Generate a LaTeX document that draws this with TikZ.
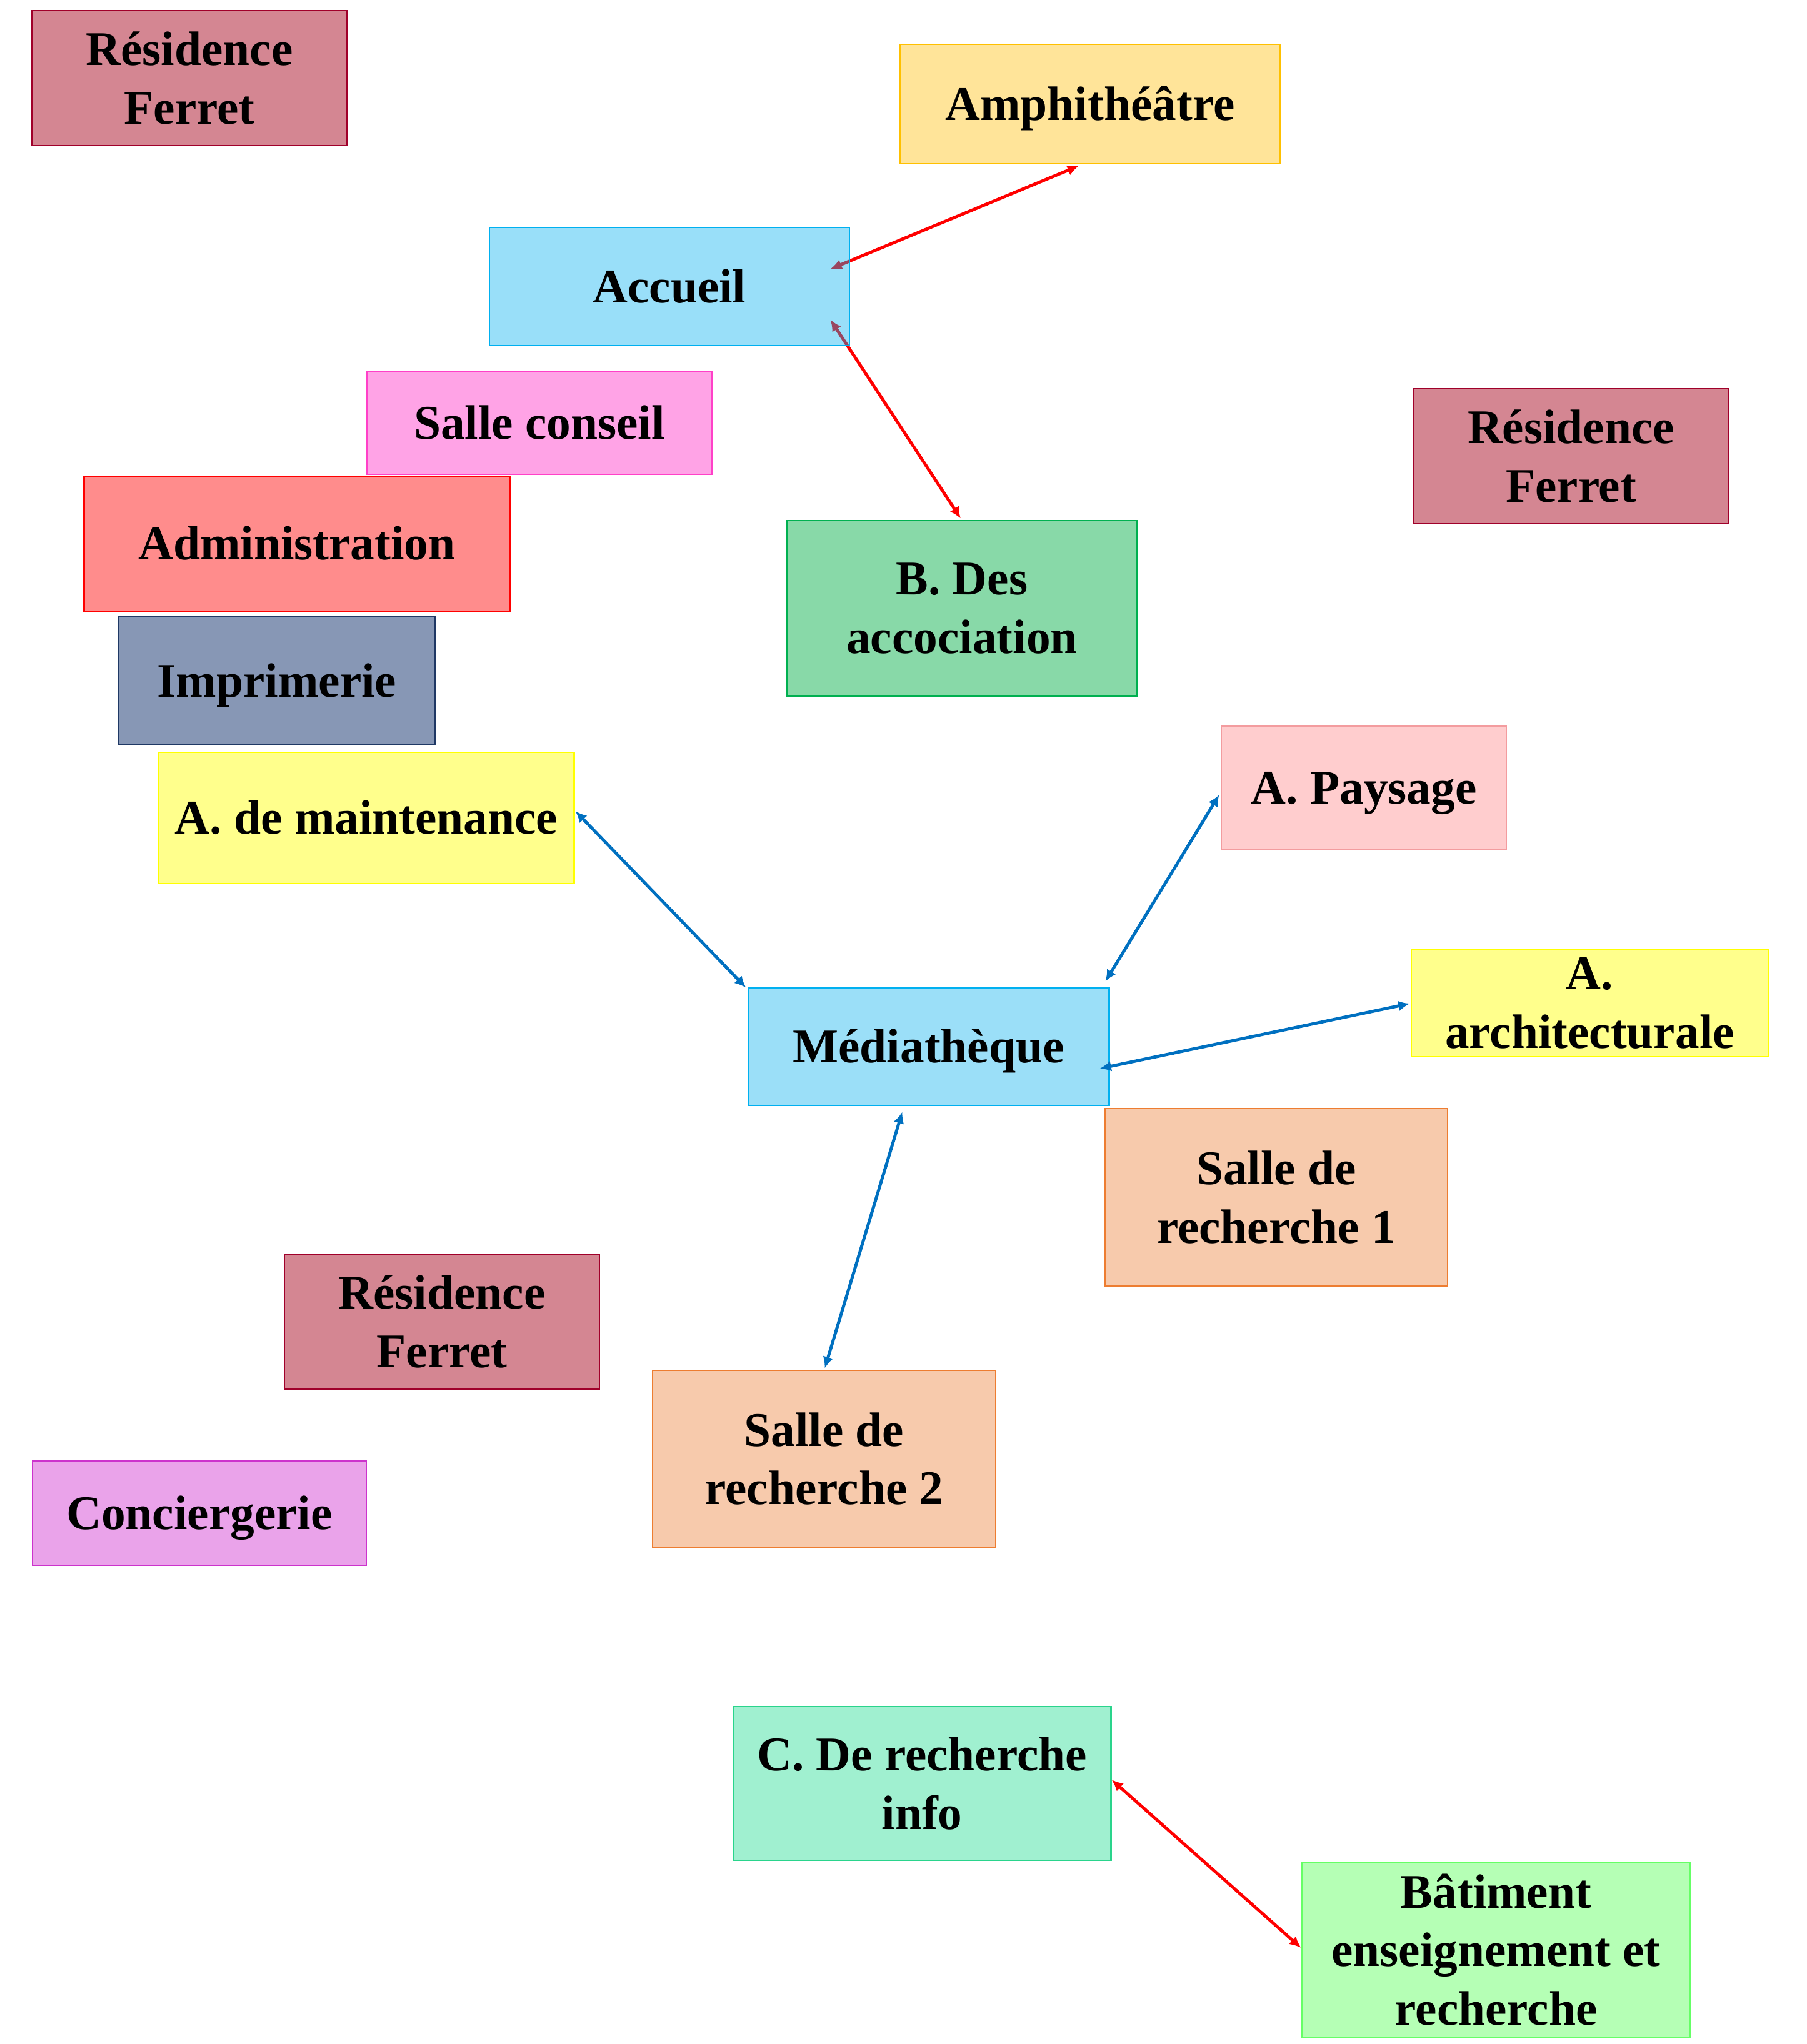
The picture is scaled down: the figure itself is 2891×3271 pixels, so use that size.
\documentclass[tikz,border=0pt]{standalone}
\usepackage{fontspec}
\setmainfont{Liberation Serif}
\usetikzlibrary{arrows.meta,calc}
\definecolor{resF}{HTML}{D48692}\definecolor{resD}{HTML}{A0002A}
\definecolor{ampF}{HTML}{FFE499}\definecolor{ampD}{HTML}{FFC000}
\definecolor{accD}{HTML}{00B0F0}\definecolor{accF}{HTML}{9BDFF8}
\definecolor{conF}{HTML}{FFA3E6}\definecolor{conD}{HTML}{FF40C8}
\definecolor{admF}{HTML}{FF8C8C}\definecolor{admD}{HTML}{FF0000}
\definecolor{impF}{HTML}{8797B5}\definecolor{impD}{HTML}{1F3864}
\definecolor{yelF}{HTML}{FFFF8C}\definecolor{yelD}{HTML}{FFFF00}
\definecolor{bdeF}{HTML}{88D9A8}\definecolor{bdeD}{HTML}{00B050}
\definecolor{payF}{HTML}{FFCDCE}\definecolor{payD}{HTML}{F39C9F}
\definecolor{salF}{HTML}{F7CAAC}\definecolor{salD}{HTML}{ED7D31}
\definecolor{ccgF}{HTML}{EAA3EA}\definecolor{ccgD}{HTML}{CC33CC}
\definecolor{cinF}{HTML}{A0F0D0}\definecolor{cinD}{HTML}{2AD48C}
\definecolor{batF}{HTML}{B5FFB5}\definecolor{batD}{HTML}{66FF66}
\definecolor{arrR}{HTML}{FF0000}\definecolor{arrB}{HTML}{0070C0}
\pgfdeclarelayer{bg}\pgfsetlayers{bg,main}
\tikzset{
  box/.style 2 args={draw=#2, fill=#1, line width=0.75pt, inner sep=0pt, align=center,
    font=\fontsize{22pt}{26.7pt}\selectfont\bfseries},
  oneline/.style={text height=15pt, text depth=0.5pt},
  arr/.style={line width=1.4pt, draw=#1,
    {Latex[length=5.2pt,width=4.8pt]}-{Latex[length=5.2pt,width=4.8pt]}}
}
\begin{document}
\begin{tikzpicture}[x=0.01cm,y=-0.01cm]
\useasboundingbox (0,0) rectangle (2891,3271);
\node[box={resF}{resD}, minimum width=5.04cm, minimum height=2.16cm] (res1) at (303,125) {Résidence\\Ferret};
\node[box={ampF}{ampD}, oneline, minimum width=6.08cm, minimum height=1.91cm] (amph) at (1744,166.5) {Amphithéâtre};
\node[box={accD}{accD}, oneline, fill opacity=0.4, text opacity=1, draw opacity=1, minimum width=5.76cm, minimum height=1.89cm] (accueil) at (1071,458.5) {Accueil};
\node[box={conF}{conD}, oneline, minimum width=5.52cm, minimum height=1.65cm] (conseil) at (863,676.5) {Salle conseil};
\node[box={admF}{admD}, oneline, minimum width=6.80cm, minimum height=2.16cm] (admin) at (475,870) {Administration};
\node[box={impF}{impD}, oneline, minimum width=5.06cm, minimum height=2.05cm] (imprim) at (443,1089.5) {Imprimerie};
\node[box={yelF}{yelD}, oneline, minimum width=6.64cm, minimum height=2.10cm] (maint) at (586,1309) {A. de maintenance};
\node[box={bdeF}{bdeD}, minimum width=5.60cm, minimum height=2.81cm] (bdes) at (1539,973.5) {B. Des\\accociation};
\node[box={resF}{resD}, minimum width=5.05cm, minimum height=2.16cm] (res2) at (2513.5,730) {Résidence\\Ferret};
\node[box={payF}{payD}, oneline, minimum width=4.56cm, minimum height=1.98cm] (paysage) at (2182,1261) {A. Paysage};
\node[box={yelF}{yelD}, minimum width=5.71cm, minimum height=1.72cm] (archi) at (2543.5,1605) {A.\\architecturale};
\node[box={accF}{accD}, oneline, minimum width=5.77cm, minimum height=1.88cm] (media) at (1485.5,1675) {Médiathèque};
\node[box={salF}{salD}, minimum width=5.48cm, minimum height=2.84cm] (salle1) at (2042,1916) {Salle de\\recherche 1};
\node[box={resF}{resD}, minimum width=5.04cm, minimum height=2.16cm] (res3) at (707,2115) {Résidence\\Ferret};
\node[box={salF}{salD}, minimum width=5.49cm, minimum height=2.83cm] (salle2) at (1318.5,2334.5) {Salle de\\recherche 2};
\node[box={ccgF}{ccgD}, oneline, minimum width=5.34cm, minimum height=1.67cm] (concierge) at (319,2421.5) {Conciergerie};
\node[box={cinF}{cinD}, minimum width=6.04cm, minimum height=2.46cm] (cinfo) at (1475,2854) {C. De recherche\\info};
\node[box={batF}{batD}, minimum width=6.21cm, minimum height=2.80cm] (batiment) at (2393.5,3120) {Bâtiment\\enseignement et\\recherche};
\begin{pgfonlayer}{bg}
\draw[arr=arrR] ($(accueil.east)+(-32,-28)$) -- ($(amph.south)+(-18,2)$);
\draw[arr=arrR] ($(accueil.east)+(-32,53)$) -- ($(bdes.north)+(-2,-2)$);
\end{pgfonlayer}
\draw[arr=arrB] ($(maint.east)+(1,-11)$) -- ($(media.north west)+(-2,1)$);
\draw[arr=arrB] ($(paysage.west)+(-2,11)$) -- ($(media.north east)+(-7,-9)$);
\draw[arr=arrB] ($(archi.west)+(-1,1)$) -- ($(media.east)+(-16,35)$);
\draw[arr=arrB] ($(salle2.north)+(1,-2)$) -- ($(media.south)+(-42,9)$);
\draw[arr=arrR] ($(cinfo.east)+(0,-6)$) -- ($(batiment.west)+(0,-3)$);
\end{tikzpicture}
\end{document}
